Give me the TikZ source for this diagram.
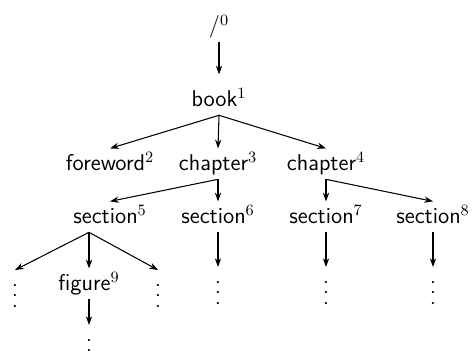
\documentclass[tikz,border=0pt]{standalone}
\usetikzlibrary{positioning}
\usetikzlibrary{arrows.meta}
\newcommand{\tdots}{\vbox{\baselineskip6pt\lineskiplimit0pt\kern7pt\hbox{.}\hbox{.}\hbox{.}}}

\begin{document}
\begin{tikzpicture}
        [x = 0.02cm, y = -0.02cm,
        word/.style = {anchor = base, text height = 10pt, text depth = 3pt, inner sep = 2pt},
        dots/.style = {anchor = north, inner sep = 1pt},
        font = {\fontsize{13}{15}\selectfont\sffamily}, semithick,
        >={Stealth[length=5pt, width=3.6pt]}]
        \useasboundingbox (0,0) rectangle (472,358);
        \node[word] (root) at (219,33) {/$^0$};
        \node[word] (book) at (219,106) {book$^1$};
        \node[word] (foreword) at (110,170) {foreword$^2$};
        \node[word] (chap3) at (218,170) {chapter$^3$};
        \node[word] (chap4) at (326,170) {chapter$^4$};
        \node[word] (sec5) at (110,223) {section$^5$};
        \node[word] (sec6) at (218,223) {section$^6$};
        \node[word] (sec7) at (326,223) {section$^7$};
        \node[word] (sec8) at (433,223) {section$^8$};
        \node[word] (fig9) at (89,290) {figure$^9$};
        \node[dots] (dotsleft) at (15,270) {\tdots};
        \node[dots] (dotsright) at (158,270) {\tdots};
        \node[dots] (dots6) at (218,267) {\tdots};
        \node[dots] (dots7) at (326,267) {\tdots};
        \node[dots] (dots8) at (433,267) {\tdots};
        \node[dots] (dots9) at (89,325) {\tdots};
        \draw[->, shorten >= 10pt*0 + 0.2cm] (root) -- (book);
        \draw[->] (book.south) -- (foreword.north);
        \draw[->] (book.south) -- (chap3.north);
        \draw[->] (book.south) -- (chap4.north);
        \draw[->] (chap3.south) -- (sec5.north);
        \draw[->] (chap3.south) -- (sec6.north);
        \draw[->] (chap4.south) -- (sec7.north);
        \draw[->] (chap4.south) -- (sec8.north);
        \draw[->] (sec5.south -| fig9.north) -- (dotsleft.north);
        \draw[->] (sec5.south -| fig9.north) -- (fig9.north);
        \draw[->] (sec5.south -| fig9.north) -- (dotsright.north);
        \draw[->] (sec6.south) -- (dots6.north);
        \draw[->] (sec7.south) -- (dots7.north);
        \draw[->] (sec8.south) -- (dots8.north);
        \draw[->] (fig9.south) -- (dots9.north);
    \end{tikzpicture}
\end{document}
